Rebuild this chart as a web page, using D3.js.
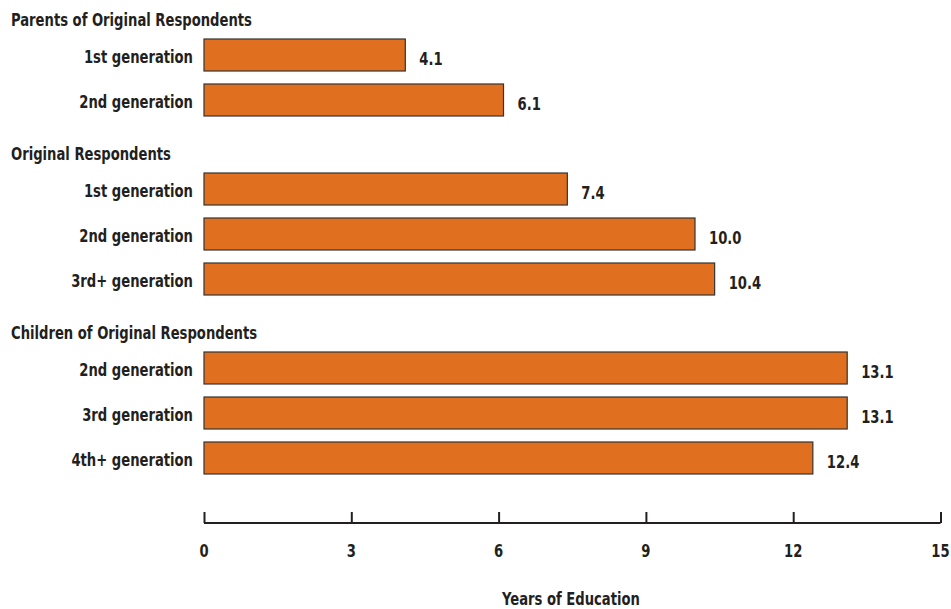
<!DOCTYPE html>
<html lang="en">
<head>
<meta charset="UTF-8">
<title>Years of Education by Generation</title>
<style>
    body { margin: 0; background: #fff; }
    svg text {
        font-family: "DejaVu Sans Condensed", "Liberation Sans Narrow", sans-serif;
        font-weight: bold;
        fill: #231f20;
    }
    .bar { fill: #e0701f; stroke: #333; stroke-width: 1.2px; }
    .axis path, .axis line { stroke: #231f20; stroke-width: 2px; }
</style>
</head>
<body>
<svg id="chart" width="951" height="609"></svg>
<script src="https://d3js.org/d3.v7.min.js"></script>
<script>
// groups and their rows
const groups = ['Parents of Original Respondents', 'Original Respondents', 'Children of Original Respondents'];
const parentLabels = ['1st generation', '2nd generation'];
const parentValues = [4.1, 6.1];
const respondentLabels = ['1st generation', '2nd generation', '3rd+ generation'];
const respondentValues = [7.4, 10.0, 10.4];
const childLabels = ['2nd generation', '3rd generation', '4th+ generation'];
const childValues = [13.1, 13.1, 12.4];
const xTicks = [0, 3, 6, 9, 12, 15];

const svg = d3.select('#chart');

const x = d3.scaleLinear().domain([0, 15]).range([204, 940.5]);

// flat list of rows, header then its bars
const rows = [];
[[parentLabels, parentValues], [respondentLabels, respondentValues], [childLabels, childValues]]
    .forEach(([labels, values], gi) => {
        rows.push({type: 'header', label: groups[gi]});
        labels.forEach((l, i) => rows.push({type: 'bar', label: l, value: values[i]}));
    });

// vertical layout in px steps: header->bar 35, bar->bar 45, bar->header 54
let pos = 20;
rows.forEach((r, i) => {
    if (i > 0) {
        const prev = rows[i - 1].type;
        pos += r.type === 'header' ? 54 : (prev === 'header' ? 35 : 45);
    }
    r.y = pos;
});
const barH = 32;

const headers = rows.filter(r => r.type === 'header');
const bars = rows.filter(r => r.type === 'bar');

// squeeze text horizontally to mimic the condensed face
function squeeze(sel, k) {
    sel.each(function() {
        const w = this.getComputedTextLength();
        d3.select(this).attr('textLength', w * k).attr('lengthAdjust', 'spacingAndGlyphs');
    });
}

svg.append('g').selectAll('text')
    .data(headers)
    .enter().append('text')
    .attr('x', 11)
    .attr('y', d => d.y)
    .attr('dy', '0.35em')
    .style('font-size', '17px')
    .text(d => d.label)
    .call(squeeze, 0.86);

svg.append('g').selectAll('rect')
    .data(bars)
    .enter().append('rect')
    .attr('class', 'bar')
    .attr('x', x(0))
    .attr('y', d => d.y - barH / 2)
    .attr('width', d => x(d.value) - x(0))
    .attr('height', barH);

svg.append('g').selectAll('text')
    .data(bars)
    .enter().append('text')
    .attr('x', x(0) - 11)
    .attr('y', d => d.y + 2)
    .attr('dy', '0.35em')
    .attr('text-anchor', 'end')
    .style('font-size', '17px')
    .text(d => d.label)
    .call(squeeze, 0.86);

svg.append('g').selectAll('text')
    .data(bars)
    .enter().append('text')
    .attr('x', d => x(d.value) + 14)
    .attr('y', d => d.y + 4)
    .attr('dy', '0.35em')
    .style('font-size', '17px')
    .text(d => d.value.toFixed(1))
    .call(squeeze, 0.86);

// axis with ticks pointing up
const axis = svg.append('g')
    .attr('class', 'axis')
    .attr('transform', 'translate(0,523)')
    .call(d3.axisTop(x).tickValues(xTicks).tickSize(11).tickSizeOuter(0).tickFormat(''));
axis.select('.domain').attr('d', `M${x(0)},0H${x(15)}`);

svg.append('g').selectAll('text')
    .data(xTicks)
    .enter().append('text')
    .attr('x', d => x(d))
    .attr('y', 551)
    .attr('dy', '0.35em')
    .attr('text-anchor', 'middle')
    .style('font-size', '17px')
    .text(d => d)
    .call(squeeze, 0.86);

svg.append('text')
    .attr('x', 571)
    .attr('y', 599)
    .attr('dy', '0.35em')
    .attr('text-anchor', 'middle')
    .style('font-size', '17px')
    .text('Years of Education')
    .call(squeeze, 0.86);
</script>
</body>
</html>
